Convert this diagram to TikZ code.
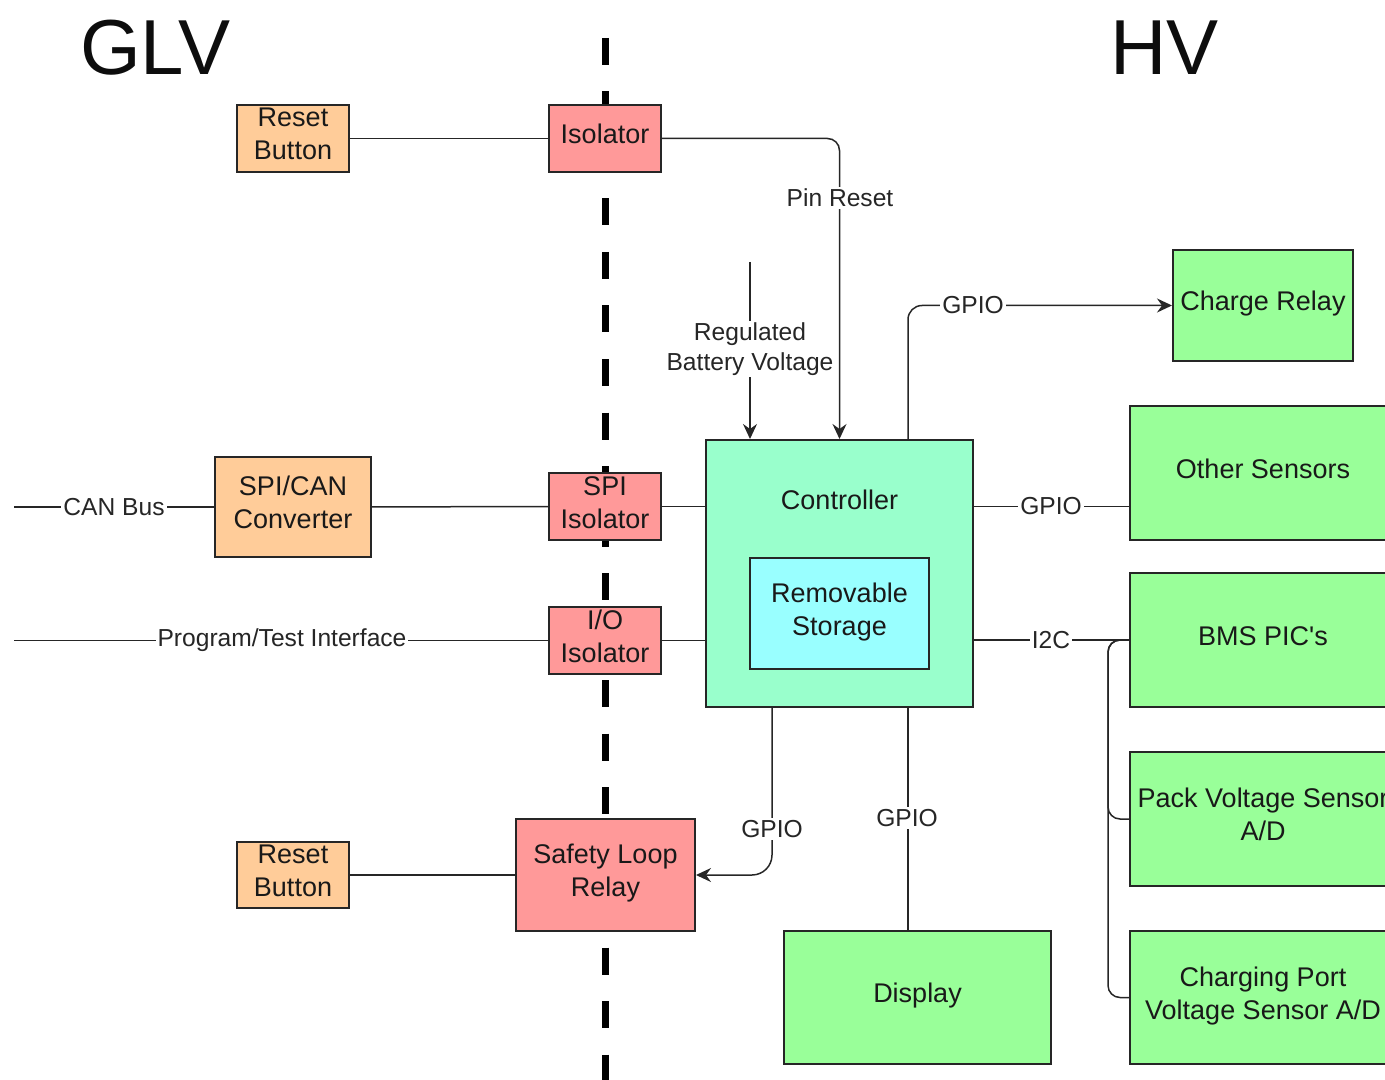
\documentclass[tikz,border=0pt]{standalone}
\usepackage{fontspec}
\setmainfont{Liberation Sans}
\usetikzlibrary{arrows.meta,calc,backgrounds}
\definecolor{orangebox}{RGB}{255,204,153}
\definecolor{pinkbox}{RGB}{255,153,153}
\definecolor{greenbox}{RGB}{153,255,153}
\definecolor{ctrlbox}{RGB}{153,255,204}
\definecolor{storbox}{RGB}{153,255,255}
\begin{document}
\begin{tikzpicture}[x=0.5pt,y=-0.5pt,
  box/.style={draw=black!85, line width=1pt, inner sep=0pt, align=center,
    text height=10pt, text depth=5pt,
    font=\fontsize{13.5}{16.5}\selectfont, text=black!90},
  twolines/.style={text height=26.5pt},
  obox/.style={box, fill=orangebox},
  pbox/.style={box, fill=pinkbox},
  gbox/.style={box, fill=greenbox},
  wire/.style={line width=0.75pt, draw=black!85},
  arr/.style={wire, -{Stealth[length=7.5pt,width=7pt,inset=2.5pt]}},
  lbl/.style={fill=white, inner sep=1pt, font=\fontsize{12.3}{15}\selectfont,
    align=center, text=black!85},
  head/.style={anchor=base west, font=\fontsize{39}{39}\selectfont, text=black!95}]
\useasboundingbox (0,0) rectangle (1385,1080);
\clip (0,0) rectangle (1385,1080);

% titles
\node[head] (glv) at (73,75) {GLV};
\node[head] (hv) at (1103,75) {HV};

% boxes
\node[obox, twolines, minimum width=56pt, minimum height=33.5pt] (rb1) at (293,138.5) {Reset\\Button};
\node[pbox, minimum width=56pt, minimum height=33.5pt] (iso1) at (605,138.5) {Isolator};
\node[obox, twolines, minimum width=78pt, minimum height=50pt] (spican) at (293,507) {SPI/CAN\\Converter};
\node[pbox, twolines, minimum width=56pt, minimum height=33.5pt] (spiiso) at (605,506.5) {SPI\\Isolator};
\node[pbox, twolines, minimum width=56pt, minimum height=33.5pt] (ioiso) at (605,640.5) {I/O\\Isolator};
\node[pbox, twolines, minimum width=89.5pt, minimum height=56pt] (slr) at (605.5,875) {Safety Loop\\Relay};
\node[obox, twolines, minimum width=56pt, minimum height=33pt] (rb2) at (293,875) {Reset\\Button};
\node[box, fill=ctrlbox, minimum width=133.5pt, minimum height=133.5pt] (ctrl) at (839.5,573.5) {};
\node[font=\fontsize{13.5}{16.5}\selectfont, text=black!90] (ctrltxt) at (839.5,500) {Controller};
\node[box, twolines, fill=storbox, minimum width=89.5pt, minimum height=55.5pt] (stor) at (839.5,613.5) {Removable\\Storage};
\node[gbox, minimum width=90pt, minimum height=55.5pt] (crelay) at (1263,305.5) {Charge Relay};
\node[gbox, minimum width=133pt, minimum height=67pt] (other) at (1263,473) {Other Sensors};
\node[gbox, minimum width=133pt, minimum height=67pt] (bms) at (1263,640) {BMS PIC\textquotesingle s};
\node[gbox, twolines, minimum width=133pt, minimum height=67pt] (pack) at (1263,819) {Pack Voltage Sensor\\A/D};
\node[gbox, twolines, minimum width=133pt, minimum height=66.5pt] (chport) at (1263,997.5) {Charging Port\\Voltage Sensor A/D};
\node[gbox, minimum width=133.5pt, minimum height=66.5pt] (disp) at (917.5,997.5) {Display};

% divider
\coordinate (divtop) at (605,38);
\coordinate (divbot) at (605,1095);
\begin{scope}[on background layer]
\draw[line width=3.5pt, dash pattern=on 13.5pt off 13.25pt] (divtop) -- (divbot);
\end{scope}

% free ends
\coordinate (rbvtop) at (750,262);
\coordinate (canL) at (14,507);
\coordinate (ptL) at (14,640.5);
\coordinate (tap) at (1122,640);
\coordinate (busx) at (1108,640);

% connectors
\draw[wire] (rb1) -- (iso1);
\draw[arr, rounded corners=6pt] (iso1.east) -| (ctrl.north);
\draw[arr] (rbvtop) -- (rbvtop |- ctrl.north);
\draw[arr, rounded corners=7pt] ([xshift=-33pt]ctrl.north east) |- (crelay.west);
\draw[wire] (canL) -- (spican.west);
\draw[wire] (spican) -- (spiiso);
\draw[wire] (spiiso.east) -- (ctrl.west |- spiiso.east);
\draw[wire] (ptL) -- (ioiso.west);
\draw[wire] (ioiso.east) -- (ctrl.west |- ioiso.east);
\draw[wire] (ctrl.east |- spiiso.east) -- (other.west |- spiiso.east);
\draw[wire] (ctrl.east |- bms.west) -- (bms.west);
\draw[wire, rounded corners=6pt] (tap) -- (busx) |- (pack.west);
\draw[wire, rounded corners=6pt] (tap) -- (busx) |- (chport.west);
\draw[wire] (rb2) -- (slr);
\draw[arr, rounded corners=10pt] ([xshift=33.5pt]ctrl.south west) |- (slr.east);
\draw[wire] ([xshift=-33pt]ctrl.south east) -- ([xshift=-33pt]ctrl.south east |- disp.north);

% labels
\node[lbl] (lpin) at (840,198) {Pin Reset};
\node[lbl] (lrbv) at (750,349) {Regulated\\Battery Voltage};
\node[lbl] (lg1) at (973,305) {GPIO};
\node[lbl] (lcan) at (114,507) {CAN Bus};
\node[lbl] (lpt) at (282,640.5) {Program/Test Interface};
\node[lbl] (lg2) at (1051,506.5) {GPIO};
\node[lbl] (li2c) at (1051,640) {I2C};
\node[lbl] (lg3) at (772,829) {GPIO};
\node[lbl] (lg4) at (907,818) {GPIO};
\end{tikzpicture}
\end{document}
